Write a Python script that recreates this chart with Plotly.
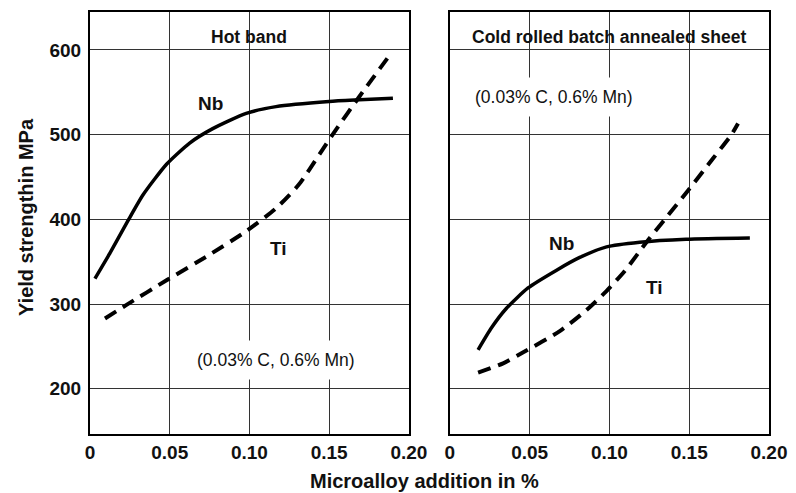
import plotly.graph_objects as go
from plotly.subplots import make_subplots

# ---- data ----
hot_nb_x = [0.0031, 0.0125, 0.024, 0.0333, 0.048, 0.0625, 0.077, 0.098, 0.1167, 0.15, 0.169, 0.19]
hot_nb_y = [330, 360, 399, 429, 465, 490, 507, 525, 533, 539, 541, 543]
hot_ti_x = [0.0094, 0.0229, 0.048, 0.073, 0.098, 0.1167, 0.131, 0.144, 0.154, 0.169, 0.1865]
hot_ti_y = [283, 299, 328, 356, 386, 413, 441, 477, 505, 545, 590]
cold_nb_x = [0.0177, 0.0261, 0.0355, 0.049, 0.0669, 0.0814, 0.0982, 0.119, 0.148, 0.188]
cold_nb_y = [246, 272, 295, 319, 340, 355, 367.5, 373, 376.5, 378]
cold_ti_x = [0.0177, 0.0334, 0.046, 0.0689, 0.0857, 0.098, 0.1096, 0.1232, 0.1347, 0.1493, 0.165, 0.1765, 0.1806]
cold_ti_y = [219, 230, 243, 268, 293, 315, 339, 373, 400, 434, 472, 500, 513]

x_ticks = [0, 0.05, 0.10, 0.15, 0.20]
x_tick_labels = ["0", "0.05", "0.10", "0.15", "0.20"]
y_ticks = [200, 300, 400, 500, 600]
panel_titles = ["Hot band", "Cold rolled batch annealed sheet"]
composition = "(0.03% C, 0.6% Mn)"

FONT = "Liberation Sans, Arial, sans-serif"
W, H = 796, 493
ML, MR, MT, MB = 90, 26.7, 12, 59
PW = W - ML - MR
PH = H - MT - MB

fig = make_subplots(rows=1, cols=2)

solid = dict(color="black", width=3.5, shape="spline", smoothing=0.6)
dashed = dict(color="black", width=4, dash="13px,8px", shape="spline", smoothing=0.6)

fig.add_trace(go.Scatter(x=hot_nb_x, y=hot_nb_y, mode="lines", line=solid), 1, 1)
fig.add_trace(go.Scatter(x=hot_ti_x, y=hot_ti_y, mode="lines", line=dashed), 1, 1)
fig.add_trace(go.Scatter(x=cold_nb_x, y=cold_nb_y, mode="lines", line=solid), 1, 2)
fig.add_trace(go.Scatter(x=cold_ti_x, y=cold_ti_y, mode="lines", line=dashed), 1, 2)

xdom1 = [0, (409 - ML) / PW]
xdom2 = [(450 - ML) / PW, 1]

tickfont = dict(family=FONT, size=19, color="#111", weight="bold")
common_x = dict(range=[0, 0.2], tickvals=x_ticks, ticktext=x_tick_labels,
                showgrid=True, gridcolor="#333", gridwidth=1.2,
                showline=True, linecolor="black", linewidth=2, mirror=True,
                ticks="", tickfont=tickfont, zeroline=False, automargin=False)
common_y = dict(range=[146.6, 644.7], tickvals=y_ticks,
                showgrid=True, gridcolor="#333", gridwidth=1.2,
                showline=True, linecolor="black", linewidth=2, mirror=True,
                ticks="outside", ticklen=3, tickcolor="rgba(0,0,0,0)",
                zeroline=False, automargin=False)

fig.update_layout(
    width=W, height=H, margin=dict(l=ML, r=MR, t=MT, b=MB, autoexpand=False),
    paper_bgcolor="white", plot_bgcolor="white", showlegend=False,
    xaxis=dict(domain=xdom1, **common_x),
    xaxis2=dict(domain=xdom2, **common_x),
    yaxis=dict(domain=[0, 1], tickfont=tickfont, **common_y),
    yaxis2=dict(domain=[0, 1], showticklabels=False, **common_y),
)

label_font = dict(family=FONT, size=19, color="#111", weight="bold")
comp_font = dict(family=FONT, size=17.5, color="#111")
head_font = dict(family=FONT, size=17.5, color="#111", weight="bold")

ann = []
# panel headers
ann.append(dict(x=0.5, xref="x domain", y=615, yref="y", text=panel_titles[0],
                showarrow=False, font=head_font))
ann.append(dict(x=0.5, xref="x2 domain", y=615, yref="y2", text=panel_titles[1],
                showarrow=False, font=head_font))
# curve labels
ann.append(dict(x=0.0753, xref="x", y=537, yref="y", text="Nb", showarrow=False, font=label_font))
ann.append(dict(x=0.1185, xref="x", y=366, yref="y", text="Ti", showarrow=False, font=label_font))
ann.append(dict(x=0.070, xref="x2", y=372, yref="y2", text="Nb", showarrow=False, font=label_font))
ann.append(dict(x=0.1284, xref="x2", y=320, yref="y2", text="Ti", showarrow=False, font=label_font))
# composition notes
ann.append(dict(x=0.1167, xref="x", y=234, yref="y", text=composition, showarrow=False,
                font=comp_font, bgcolor="white", borderpad=9))
ann.append(dict(x=0.0653, xref="x2", y=544, yref="y2", text=composition, showarrow=False,
                font=comp_font, bgcolor="white", borderpad=9))
# axis titles (page pixel positions converted to plot-area paper coordinates)
ann.append(dict(x=(425 - ML) / PW, xref="paper", y=(H - 481 - MB) / PH, yref="paper",
                xanchor="center", yanchor="middle",
                text="Microalloy addition in %", showarrow=False,
                font=dict(family=FONT, size=20, color="#111", weight="bold")))
ann.append(dict(x=(26 - ML) / PW, xref="paper", y=(H - 217 - MB) / PH, yref="paper",
                xanchor="center", yanchor="middle",
                text="Yield strengthin MPa", showarrow=False, textangle=-90,
                font=dict(family=FONT, size=20, color="#111", weight="bold")))

fig.update_layout(annotations=ann)
fig.write_html("out.html", post_script="document.body.style.margin='0';",
               config={"displayModeBar": False})
